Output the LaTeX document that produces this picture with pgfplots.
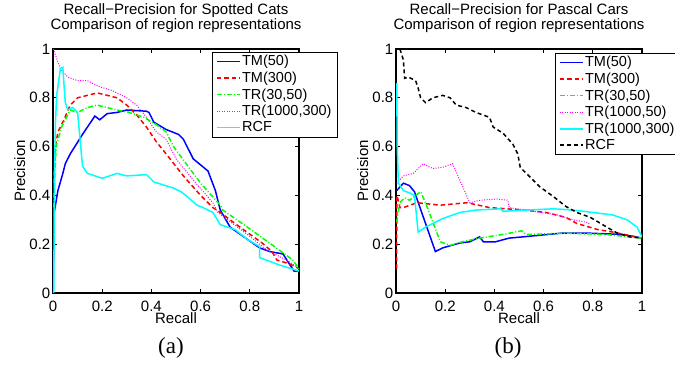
\documentclass[border=0pt]{standalone}
\usepackage{pgfplots}
\pgfplotsset{compat=1.18}
\usepackage{fontspec}
\setmainfont{Liberation Sans}
\newfontfamily\timesf{Liberation Serif}
\definecolor{mblue}{rgb}{0,0,1}
\definecolor{mred}{rgb}{1,0,0}
\definecolor{mgreen}{rgb}{0,1,0}
\definecolor{mmag}{rgb}{1,0,1}
\definecolor{mcyan}{rgb}{0,1,1}
\newcommand{\fs}{\fontsize{15bp}{15bp}\selectfont}
\newcommand{\lfs}{\fontsize{14.5bp}{14.5bp}\selectfont}
\pgfplotsset{
  prplot/.style={
    scale only axis, width=246bp, height=244bp,
    xmin=0, xmax=1, ymin=0, ymax=1,
    xtick={0,0.2,0.4,0.6,0.8,1}, xticklabels={0,0.2,0.4,0.6,0.8,1},
    ytick={0,0.2,0.4,0.6,0.8,1}, yticklabels={0,0.2,0.4,0.6,0.8,1},
    tick align=inside, xtick pos=both, ytick pos=both,
    major tick length=4bp,
    tick style={black, line width=0.8bp},
    axis line style={line width=1.3bp},
    every tick label/.append style={font=\fs, inner sep=0pt},
    xticklabel shift=8bp, yticklabel shift=2.5bp,
    title style={font=\fs, align=center, at={(axis description cs:0.5,1.041)}, anchor=south, inner sep=0pt},
    xlabel style={font=\fs, at={(axis description cs:0.5,-0.127)}, anchor=base, inner sep=0pt},
    ylabel style={font=\fs, at={(axis description cs:-0.1138,0.5)}, anchor=base, inner sep=0pt},
    xlabel={Recall}, ylabel={Precision},
    legend cell align=left,
    legend image code/.code={\draw[##1] (0bp,0bp) -- (23bp,0bp);},
    legend style={at={(axis description cs:0.646,0.988)}, anchor=north west, font=\lfs,
      draw=black, inner xsep=4bp, inner ysep=1bp,
      nodes={font=\lfs, text=black, inner xsep=1.5bp, inner ysep=2.3bp}},
  },
  sTM50/.style={draw=mblue, line width=1.5bp},
  sTM300/.style={draw=mred, line width=1.5bp, dash pattern=on 4.5bp off 3bp},
  sTR3050/.style={draw=mgreen, line width=1.5bp, dash pattern=on 5bp off 2bp on 1bp off 2bp},
  sTRdot/.style={draw=mmag, line width=1bp, dash pattern=on 1bp off 1.5bp},
  sCyan/.style={draw=mcyan, line width=1.5bp},
  sBlack/.style={draw=black, line width=1.5bp, dash pattern=on 4bp off 3bp},
}
\begin{document}
\begin{tikzpicture}
\begin{axis}[prplot, at={(53bp,72bp)}, anchor=south west,
  title={Recall\textminus Precision for Spotted Cats\\Comparison of region representations}]
\addplot[sTM50] coordinates {(0,0) (0.003,0.2) (0.005,0.33) (0.02,0.42) (0.04,0.49) (0.05,0.53) (0.07,0.57) (0.12,0.65) (0.17,0.725) (0.19,0.71) (0.22,0.735) (0.26,0.74) (0.30,0.75) (0.38,0.745) (0.39,0.74) (0.41,0.70) (0.46,0.67) (0.51,0.65) (0.53,0.63) (0.57,0.55) (0.63,0.50) (0.66,0.42) (0.68,0.34) (0.72,0.27) (0.79,0.22) (0.84,0.185) (0.88,0.17) (0.935,0.16) (0.96,0.12) (0.98,0.09) (1,0.09)};
\addlegendentry{TM(50)}
\addplot[sTM300] coordinates {(0.003,0.45) (0.01,0.6) (0.02,0.66) (0.04,0.70) (0.07,0.77) (0.10,0.80) (0.14,0.81) (0.18,0.82) (0.22,0.81) (0.26,0.80) (0.30,0.77) (0.34,0.73) (0.38,0.68) (0.42,0.62) (0.46,0.57) (0.53,0.48) (0.60,0.40) (0.65,0.35) (0.68,0.33) (0.76,0.27) (0.85,0.205) (0.89,0.17) (0.91,0.135) (0.96,0.12) (1,0.10)};
\addlegendentry{TM(300)}
\addplot[sTR3050] coordinates {(0.003,0.35) (0.01,0.55) (0.015,0.61) (0.035,0.68) (0.07,0.75) (0.10,0.74) (0.14,0.76) (0.18,0.77) (0.22,0.76) (0.26,0.75) (0.31,0.74) (0.37,0.72) (0.42,0.69) (0.46,0.66) (0.49,0.60) (0.53,0.545) (0.60,0.45) (0.68,0.36) (0.69,0.34) (0.79,0.27) (0.88,0.205) (0.975,0.135) (1,0.10)};
\addlegendentry{TR(30,50)}
\addplot[sTRdot] coordinates {(0.002,1.0) (0.01,0.975) (0.03,0.92) (0.06,0.885) (0.10,0.87) (0.14,0.87) (0.19,0.845) (0.24,0.83) (0.30,0.80) (0.34,0.77) (0.38,0.72) (0.42,0.66) (0.46,0.63) (0.50,0.55) (0.56,0.475) (0.65,0.37) (0.67,0.33) (0.79,0.24) (0.87,0.175) (0.95,0.135) (1,0.10)};
\addlegendentry{TR(1000,300)}
\addplot[sCyan] coordinates {(0.003,0) (0.006,0.5) (0.01,0.7) (0.015,0.81) (0.03,0.92) (0.04,0.925) (0.045,0.85) (0.05,0.78) (0.06,0.75) (0.08,0.76) (0.10,0.74) (0.12,0.52) (0.14,0.49) (0.20,0.47) (0.26,0.49) (0.30,0.48) (0.38,0.485) (0.41,0.455) (0.49,0.43) (0.52,0.415) (0.54,0.40) (0.585,0.36) (0.61,0.35) (0.65,0.33) (0.68,0.28) (0.74,0.26) (0.79,0.22) (0.84,0.19) (0.84,0.145) (0.92,0.115) (1,0.09)};
\addlegendentry{RCF}
\end{axis}
\begin{axis}[prplot, at={(396bp,72bp)}, anchor=south west,
  legend style={at={(axis description cs:0.646,0.984)}},
  title={Recall\textminus Precision for Pascal Cars\\Comparison of region representations}]
\addplot[sTM50] coordinates {(0.003,0.42) (0.03,0.45) (0.055,0.44) (0.075,0.415) (0.16,0.17) (0.19,0.185) (0.26,0.205) (0.30,0.21) (0.34,0.23) (0.355,0.21) (0.405,0.21) (0.46,0.225) (0.515,0.23) (0.67,0.245) (0.79,0.245) (0.92,0.24) (1,0.225)};
\addlegendentry{TM(50)}
\addplot[sTM300] coordinates {(0.002,0.1) (0.004,0.4) (0.016,0.35) (0.03,0.35) (0.085,0.37) (0.18,0.36) (0.29,0.37) (0.38,0.35) (0.52,0.34) (0.61,0.33) (0.69,0.31) (0.735,0.285) (0.82,0.26) (0.88,0.25) (1,0.225)};
\addlegendentry{TM(300)}
\addplot[sTR3050] coordinates {(0.003,0.29) (0.015,0.37) (0.035,0.39) (0.055,0.38) (0.10,0.415) (0.12,0.37) (0.18,0.21) (0.22,0.195) (0.27,0.21) (0.34,0.225) (0.435,0.24) (0.51,0.255) (0.53,0.24) (0.70,0.245) (0.85,0.24) (1,0.225)};
\addlegendentry{TR(30,50)}
\addplot[sTRdot] coordinates {(0.003,0.45) (0.03,0.48) (0.07,0.49) (0.11,0.53) (0.15,0.51) (0.19,0.515) (0.23,0.53) (0.30,0.37) (0.34,0.38) (0.41,0.385) (0.455,0.38) (0.46,0.35) (0.655,0.32) (0.72,0.30) (0.775,0.29) (0.79,0.28)};
\addlegendentry{TR(1000,50)}
\addplot[sCyan] coordinates {(0.003,0.86) (0.005,0.6) (0.008,0.5) (0.01,0.45) (0.03,0.42) (0.055,0.41) (0.075,0.40) (0.09,0.25) (0.12,0.27) (0.19,0.305) (0.26,0.33) (0.325,0.34) (0.425,0.345) (0.435,0.335) (0.53,0.34) (0.64,0.345) (0.72,0.34) (0.80,0.33) (0.88,0.32) (0.94,0.30) (0.98,0.27) (1,0.23)};
\addlegendentry{TR(1000,300)}
\addplot[sBlack] coordinates {(0.016,1.0) (0.03,0.955) (0.035,0.88) (0.05,0.885) (0.08,0.87) (0.09,0.84) (0.10,0.80) (0.12,0.78) (0.15,0.80) (0.19,0.81) (0.22,0.80) (0.245,0.77) (0.285,0.76) (0.325,0.74) (0.38,0.72) (0.395,0.68) (0.435,0.655) (0.475,0.61) (0.495,0.57) (0.505,0.515) (0.545,0.475) (0.585,0.435) (0.64,0.395) (0.69,0.355) (0.735,0.33) (0.79,0.31) (0.84,0.28) (0.90,0.245) (0.95,0.23) (1,0.225)};
\addlegendentry{RCF}
\end{axis}
\node[font=\timesf\fontsize{23bp}{23bp}\selectfont] at (171bp,17.5bp) {(a)};
\node[font=\timesf\fontsize{23bp}{23bp}\selectfont] at (508bp,17.5bp) {(b)};
\pgfresetboundingbox
\useasboundingbox (0,0) rectangle (675bp,365bp);
\end{tikzpicture}
\end{document}
